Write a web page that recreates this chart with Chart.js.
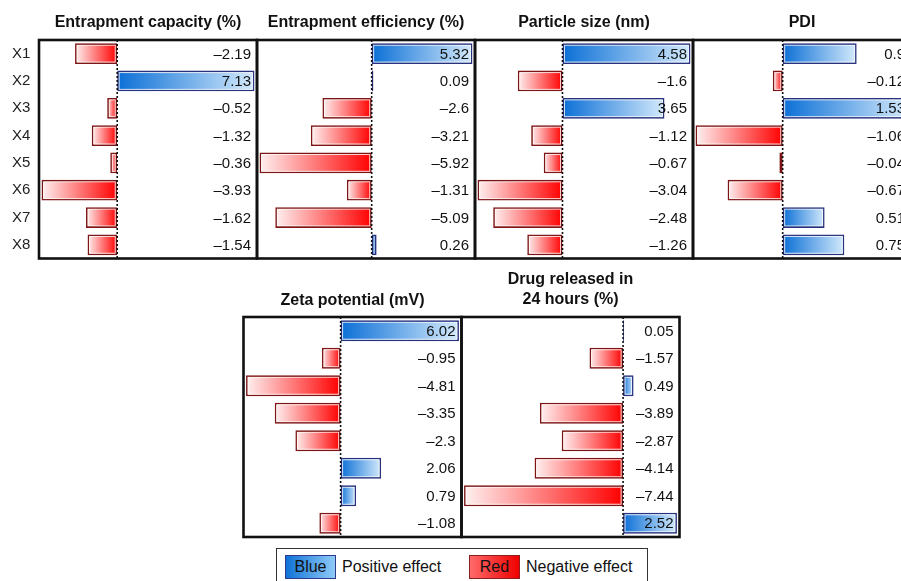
<!DOCTYPE html>
<html>
<head>
<meta charset="utf-8">
<title>Factor effects</title>
<script src="https://cdn.jsdelivr.net/npm/chart.js@4.4.1/dist/chart.umd.min.js"></script>
<style>
  html, body { margin: 0; padding: 0; background: #fff; overflow: hidden; width: 901px; height: 581px; }
  body { position: relative; font-family: "Liberation Sans", Arial, sans-serif; color: #111; }
  canvas { position: absolute; }
  .legend { position: absolute; left: 276px; top: 548px; width: 372px; height: 46px; border: 1px solid #333; box-sizing: border-box; }
  .sw { position: absolute; top: 6px; width: 51px; height: 24px; box-sizing: border-box; font-size: 16px; line-height: 21px; text-align: center; color: #111; }
  .sw.blue { left: 8px; border: 1.5px solid #2d3a8e; background: linear-gradient(to right, #0f72d8, #8ecbf7); }
  .sw.red { left: 192px; border: 1.5px solid #8c1f1f; background: linear-gradient(to right, #ff6a6a, #f00000); }
  .lt { position: absolute; top: 6px; font-size: 16px; line-height: 24px; color: #111; }
</style>
</head>
<body>
<canvas id="c1"></canvas>
<canvas id="c2"></canvas>
<canvas id="c3"></canvas>
<canvas id="c4"></canvas>
<canvas id="c5"></canvas>
<canvas id="c6"></canvas>
<div class="legend">
  <div class="sw blue">Blue</div><div class="lt" style="left:65px">Positive effect</div>
  <div class="sw red">Red</div><div class="lt" style="left:249px">Negative effect</div>
</div>
<script>
// Factors and their effect on each response
const factors = ['X1', 'X2', 'X3', 'X4', 'X5', 'X6', 'X7', 'X8'];
const entrapmentCapacity = [-2.19, 7.13, -0.52, -1.32, -0.36, -3.93, -1.62, -1.54];
const entrapmentEfficiency = [5.32, 0.09, -2.6, -3.21, -5.92, -1.31, -5.09, 0.26];
const particleSize = [4.58, -1.6, 3.65, -1.12, -0.67, -3.04, -2.48, -1.26];
const pdi = [0.9, -0.12, 1.53, -1.06, -0.04, -0.67, 0.51, 0.75];
const zetaPotential = [6.02, -0.95, -4.81, -3.35, -2.3, 2.06, 0.79, -1.08];
const drugReleased24h = [0.05, -1.57, 0.49, -3.89, -2.87, -4.14, -7.44, 2.52];

const FONT = '"Liberation Sans", Arial, sans-serif';

function fmt(v) {
  return v < 0 ? '\u2013' + String(Math.abs(v)) : String(v);
}

// Bar highlight, zero line, value labels and panel frame
const effectPlugin = {
  id: 'effectPanel',
  afterDatasetsDraw(chart) {
    const { ctx, chartArea: a, scales: { x, y } } = chart;
    const zx = x.getPixelForValue(0);
    ctx.save();

    // thin light inner edge on each bar
    ctx.strokeStyle = 'rgba(255,255,255,0.75)';
    ctx.lineWidth = 1;
    chart.getDatasetMeta(0).data.forEach(bar => {
      const l = Math.min(bar.x, bar.base) + 2, r = Math.max(bar.x, bar.base) - 2;
      const t = bar.y - bar.height / 2 + 2, b = bar.y + bar.height / 2 - 2;
      if (r - l > 2) ctx.strokeRect(l, t, r - l, b - t);
    });

    ctx.strokeStyle = '#111';
    ctx.lineWidth = 1.6;
    ctx.setLineDash([2, 2]);
    ctx.beginPath();
    ctx.moveTo(zx, a.top);
    ctx.lineTo(zx, a.bottom);
    ctx.stroke();
    ctx.setLineDash([]);

    ctx.font = '15px ' + FONT;
    ctx.fillStyle = '#111';
    ctx.textAlign = 'right';
    ctx.textBaseline = 'middle';
    chart.data.datasets[0].data.forEach((v, i) => {
      ctx.fillText(fmt(v), a.right - 6, y.getPixelForValue(i) + 1);
    });

    ctx.strokeStyle = '#111';
    ctx.lineWidth = 2.6;
    ctx.strokeRect(a.left, a.top, a.right - a.left, a.bottom - a.top);
    ctx.restore();
  }
};

function barFill(c) {
  const chart = c.chart;
  if (!chart.chartArea || c.raw === undefined) return '#888';
  const xs = chart.scales.x;
  const x0 = xs.getPixelForValue(0);
  let x1 = xs.getPixelForValue(c.raw);
  if (Math.abs(x1 - x0) < 1) x1 = x0 + (c.raw < 0 ? -1 : 1);
  const g = chart.ctx.createLinearGradient(x0, 0, x1, 0);
  if (c.raw >= 0) {
    g.addColorStop(0, '#0b6fd6');
    g.addColorStop(1, '#d4eafc');
  } else {
    g.addColorStop(0, '#ff0000');
    g.addColorStop(1, '#fff1f1');
  }
  return g;
}

function makePanel(id, box, title, values, opts) {
  const cv = document.getElementById(id);
  cv.width = box.w;
  cv.height = box.h;
  cv.style.left = box.x + 'px';
  cv.style.top = box.y + 'px';
  cv.style.width = box.w + 'px';
  cv.style.height = box.h + 'px';
  const lo = Math.min(...values), hi = Math.max(...values);
  const pad = 0.012 * (hi - lo);
  const showY = !!opts.showY;
  return new Chart(cv, {
    type: 'bar',
    data: {
      labels: factors,
      datasets: [{
        data: values,
        backgroundColor: barFill,
        borderColor: c => (c.raw >= 0 ? '#28337f' : '#7e1414'),
        borderWidth: 1.8,
        borderSkipped: false,
        barPercentage: 0.76,
        categoryPercentage: 1
      }]
    },
    options: {
      indexAxis: 'y',
      responsive: false,
      animation: false,
      devicePixelRatio: 1,
      layout: { padding: opts.padding, autoPadding: false },
      scales: {
        x: { display: false, min: lo - pad, max: hi + pad },
        y: {
          display: showY,
          grid: { display: false, drawTicks: false },
          border: { display: false },
          ticks: { crossAlign: 'far', color: '#222', font: { size: 15, family: FONT }, padding: 0 },
          afterFit: s => {
            if (showY) {
              s.width = 27;
              s.paddingTop = 0;
              s.paddingBottom = 0;
            }
          }
        }
      },
      plugins: {
        legend: { display: false },
        tooltip: { enabled: false },
        title: {
          display: true,
          text: title,
          fullSize: false,
          color: '#111',
          font: { size: 16, weight: 'bold', family: FONT, lineHeight: 1.2 },
          padding: opts.titlePad
        }
      }
    },
    plugins: [effectPlugin]
  });
}

// Top row
const topPad = { top: 13, bottom: 7.8 };
makePanel('c1', { x: 0, y: 0, w: 259, h: 261 }, 'Entrapment capacity (%)', entrapmentCapacity,
  { showY: true, padding: { left: 12, right: 2, top: 0, bottom: 2.5 }, titlePad: topPad });
makePanel('c2', { x: 255, y: 0, w: 222, h: 261 }, 'Entrapment efficiency (%)', entrapmentEfficiency,
  { padding: { left: 2, right: 2, top: 0, bottom: 2.5 }, titlePad: topPad });
makePanel('c3', { x: 473, y: 0, w: 222, h: 261 }, 'Particle size (nm)', particleSize,
  { padding: { left: 2, right: 2, top: 0, bottom: 2.5 }, titlePad: topPad });
makePanel('c4', { x: 691, y: 0, w: 222, h: 261 }, 'PDI', pdi,
  { padding: { left: 2, right: 2, top: 0, bottom: 2.5 }, titlePad: topPad });

// Bottom row
makePanel('c5', { x: 241, y: 262, w: 222, h: 277 }, 'Zeta potential (mV)', zetaPotential,
  { padding: { left: 2.5, right: 1.5, top: 0, bottom: 2 }, titlePad: { top: 29.4, bottom: 6.4 } });
makePanel('c6', { x: 460, y: 262, w: 222, h: 277 }, ['Drug released in', '24 hours (%)'], drugReleased24h,
  { padding: { left: 1.5, right: 2.5, top: 0, bottom: 2 }, titlePad: { top: 8.4, bottom: 8.2 } });
</script>
</body>
</html>
